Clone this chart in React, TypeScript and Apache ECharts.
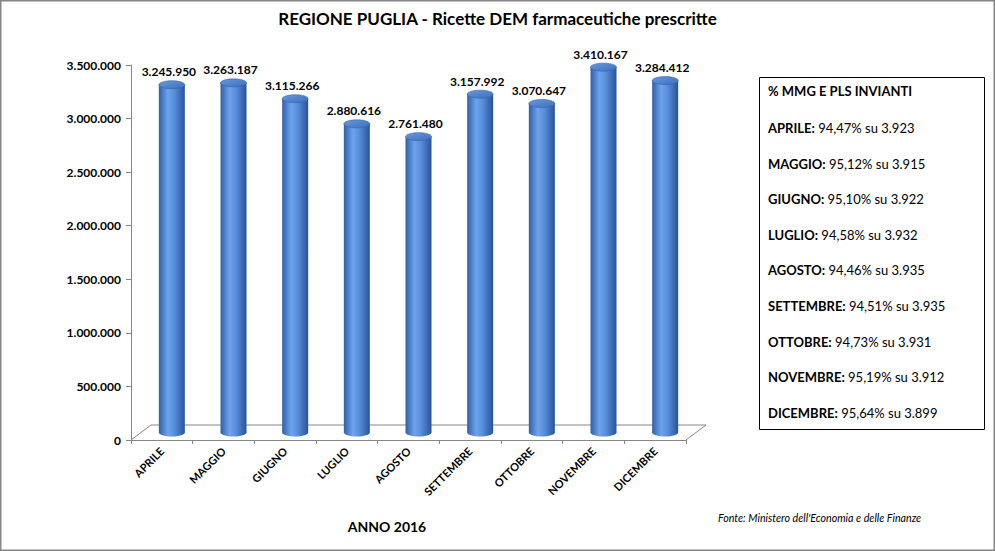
import React, { useEffect, useRef } from "react";
import * as echarts from "echarts";

const titleText = "REGIONE PUGLIA - Ricette DEM farmaceutiche prescritte";
const months = ["APRILE", "MAGGIO", "GIUGNO", "LUGLIO", "AGOSTO", "SETTEMBRE", "OTTOBRE", "NOVEMBRE", "DICEMBRE"];
const prescriptions = [3245950, 3263187, 3115266, 2880616, 2761480, 3157992, 3070647, 3410167, 3284412];
const yMin = 0;
const yMax = 3500000;
const yInterval = 500000;
const xAxisName = "ANNO 2016";
const sourceText = "Fonte: Ministero dell'Economia e delle Finanze";
const legendTitle = "% MMG E PLS INVIANTI";
const legendPct = ["94,47%", "95,12%", "95,10%", "94,58%", "94,46%", "94,51%", "94,73%", "95,19%", "95,64%"];
const legendTotals = ["3.923", "3.915", "3.922", "3.932", "3.935", "3.935", "3.931", "3.912", "3.899"];

const FONT = "Lato, 'Open Sans', sans-serif";
const fmt = (n: number) => Math.round(n).toString().replace(/\B(?=(\d{3})+(?!\d))/g, ".");

export default function App() {
  const ref = useRef<HTMLDivElement>(null);
  useEffect(() => {
    document.body.style.margin = "0";
    if (!ref.current) return;
    const chart = echarts.init(ref.current, undefined, { renderer: "svg" });
    const dx = 10, dy = -7.5, rx = 13, ry = 4;
    const legendChildren: any[] = [
      {
        type: "rect",
        shape: { x: 759.5, y: 77.5, width: 225, height: 352 },
        style: { fill: "#fff", stroke: "#000", lineWidth: 1 },
      },
      {
        type: "text",
        x: 768,
        y: 91,
        style: { text: legendTitle, fontFamily: FONT, fontSize: 13, fontWeight: "bold", fill: "#000", verticalAlign: "middle" },
      },
    ];
    months.forEach((m, i) => {
      legendChildren.push({
        type: "text",
        x: 768,
        y: 128 + i * 35.6,
        style: {
          text: `{b|${m}:} ${legendPct[i]} su ${legendTotals[i]}`,
          rich: { b: { fontWeight: "bold", fontFamily: FONT, fontSize: 13, fill: "#000" } },
          fontFamily: FONT,
          fontSize: 13,
          fill: "#000",
          verticalAlign: "middle",
        },
      });
    });

    chart.setOption({
      animation: false,
      backgroundColor: "#fff",
      title: {
        text: titleText,
        left: "center",
        top: 10,
        padding: 0,
        textStyle: { fontFamily: FONT, fontSize: 17, fontWeight: "bold", color: "#000" },
      },
      grid: { left: 131, right: 309, top: 65, bottom: 111 },
      xAxis: {
        type: "category",
        data: months,
        axisLine: { lineStyle: { color: "#868686" } },
        axisTick: { show: true, length: 4, lineStyle: { color: "#868686" } },
        axisLabel: { rotate: 45, margin: 9, fontFamily: FONT, fontSize: 11, fontWeight: "bold", color: "#000" },
      },
      yAxis: {
        type: "value",
        min: yMin,
        max: yMax,
        interval: yInterval,
        axisLine: { show: true, lineStyle: { color: "#868686" } },
        axisTick: { show: true, length: 5, lineStyle: { color: "#868686" } },
        splitLine: { show: false },
        axisLabel: { margin: 10, fontFamily: FONT, fontSize: 12, fontWeight: "bold", color: "#000", formatter: (v: number) => fmt(v) },
      },
      series: [
        {
          type: "custom",
          data: prescriptions.map((v, i) => [i, v]),
          encode: { x: 0, y: 1 },
          renderItem: (params: any, api: any) => {
            const idx = api.value(0);
            const v = api.value(1);
            const top = api.coord([idx, v]);
            const base = api.coord([idx, 0]);
            const cs = params.coordSys;
            const cx = top[0] + dx;
            const ty = top[1] + dy;
            const by = base[1] + dy;
            const children: any[] = [];
            if (params.dataIndex === 0) {
              const fx = cs.x, fy = cs.y + cs.height, fw = cs.width;
              children.push({
                type: "polyline",
                shape: { points: [[fx, fy], [fx + 2 * dx, fy + 2 * dy], [fx + fw + 2 * dx, fy + 2 * dy], [fx + fw, fy]] },
                style: { fill: null, stroke: "#868686", lineWidth: 1 },
              });
            }
            const grad = new echarts.graphic.LinearGradient(0, 0, 1, 0, [
              { offset: 0, color: "#2f60aa" },
              { offset: 0.35, color: "#6ea4ec" },
              { offset: 0.6, color: "#578ddb" },
              { offset: 1, color: "#2a5398" },
            ]);
            children.push({
              type: "ellipse",
              shape: { cx, cy: by, rx, ry },
              style: { fill: grad },
            });
            children.push({
              type: "rect",
              shape: { x: cx - rx, y: ty, width: rx * 2, height: by - ty },
              style: { fill: grad },
            });
            children.push({
              type: "ellipse",
              shape: { cx, cy: ty, rx, ry },
              style: {
                fill: new echarts.graphic.LinearGradient(0, 0, 1, 1, [
                  { offset: 0, color: "#6699df" },
                  { offset: 1, color: "#3d6fbc" },
                ]),
                stroke: "#3563ad",
                lineWidth: 0.6,
              },
            });
            children.push({
              type: "text",
              x: cx - 3,
              y: ty - 13,
              style: {
                text: fmt(v),
                fontFamily: FONT,
                fontSize: 12,
                fontWeight: "bold",
                fill: "#000",
                align: "center",
                verticalAlign: "middle",
              },
            });
            return { type: "group", children };
          },
        },
      ],
      graphic: [
        {
          type: "rect",
          shape: { x: 0.75, y: 0.75, width: 993.5, height: 549.5 },
          style: { fill: null, stroke: "#868686", lineWidth: 1.5 },
          silent: true,
        },
        {
          type: "text",
          x: 387,
          y: 526,
          style: { text: xAxisName, fontFamily: FONT, fontSize: 14, fontWeight: "bold", fill: "#000", align: "center", verticalAlign: "middle" },
        },
        {
          type: "text",
          x: 718,
          y: 517,
          style: { text: sourceText, fontFamily: FONT, fontSize: 10.7, fontStyle: "italic", fill: "#000", verticalAlign: "middle" },
        },
        { type: "group", children: legendChildren },
      ],
    });
    return () => chart.dispose();
  }, []);
  return <div ref={ref} style={{ width: 995, height: 551 }} />;
}
